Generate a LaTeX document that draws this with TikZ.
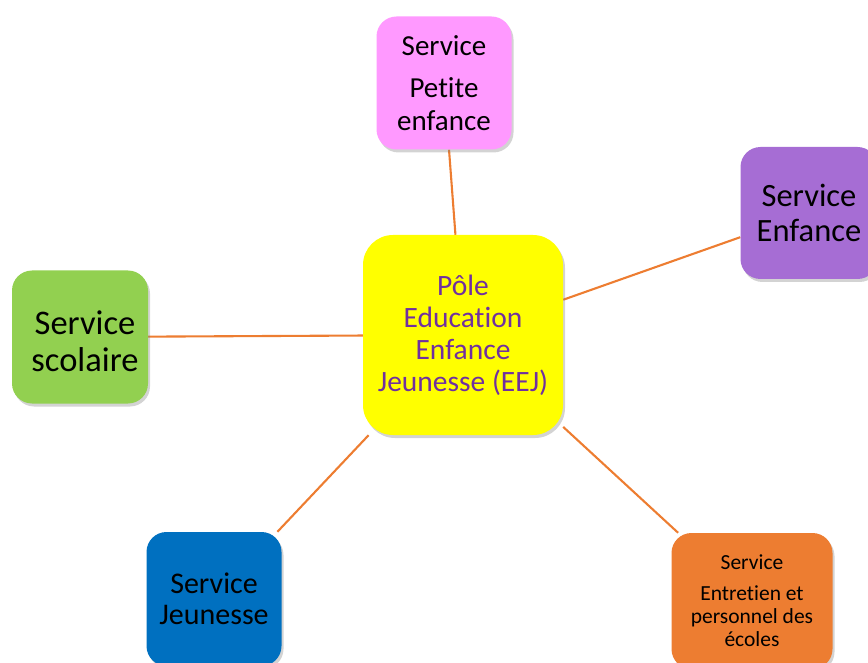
\documentclass[tikz,border=0pt]{standalone}
\usepackage{fontspec}
\setmainfont{Carlito}[Ligatures=NoCommon]
\usetikzlibrary{shadows,backgrounds}
\definecolor{cpink}{HTML}{FF99FF}
\definecolor{cviolet}{HTML}{A66DD4}
\definecolor{cgreen}{HTML}{92D050}
\definecolor{cyellow}{HTML}{FFFF00}
\definecolor{cblue}{HTML}{0070C0}
\definecolor{corange}{HTML}{ED7D31}
\definecolor{ctext}{HTML}{7030A0}
\tikzset{
  box/.style={rounded corners=20pt, align=center, inner sep=0pt,
    drop shadow={opacity=0.35, shadow xshift=2pt, shadow yshift=-3pt}},
  link/.style={draw=corange, line width=2.1pt}
}
\begin{document}
\begin{tikzpicture}[x=1pt,y=-1pt]
\useasboundingbox (0,0) rectangle (868,663);
\node[box, fill=cyellow, minimum width=200pt, minimum height=200pt, rounded corners=30pt,
  font=\fontsize{29.5}{32}\selectfont, text=ctext] (c) at (463,335)
  {Pôle\\Education\\Enfance\\Jeunesse (EEJ)};
\node[box, fill=cpink, minimum width=135pt, minimum height=133pt,
  font=\fontsize{29}{33}\selectfont] (p) at (444,83)
  {Service\\[9pt]Petite\\enfance};
\node[box, fill=cviolet, minimum width=137pt, minimum height=132pt,
  font=\fontsize{32.5}{35}\selectfont] (e) at (809,213)
  {Service\\Enfance};
\node[box, fill=cgreen, minimum width=136pt, minimum height=133pt,
  font=\fontsize{34.5}{37}\selectfont] (s) at (80,337)
  {\hspace*{10pt}\rule{0pt}{32pt}Service\\\hspace*{10pt}scolaire};
\node[box, fill=cblue, minimum width=135pt, minimum height=134pt,
  font=\fontsize{30}{31}\selectfont] (j) at (214,599)
  {Service\\Jeunesse};
\node[box, fill=corange, minimum width=161pt, minimum height=136pt,
  font=\fontsize{21.5}{23}\selectfont] (o) at (752,601)
  {Service\\[8pt]Entretien et\\personnel des\\écoles};
\begin{scope}[on background layer]
\draw[link] (p) -- (c);
\draw[link] (e) -- (c);
\draw[link] (s) -- (c);
\draw[link] (j) -- (c);
\draw[link] (o) -- (c);
\end{scope}
\end{tikzpicture}
\end{document}
